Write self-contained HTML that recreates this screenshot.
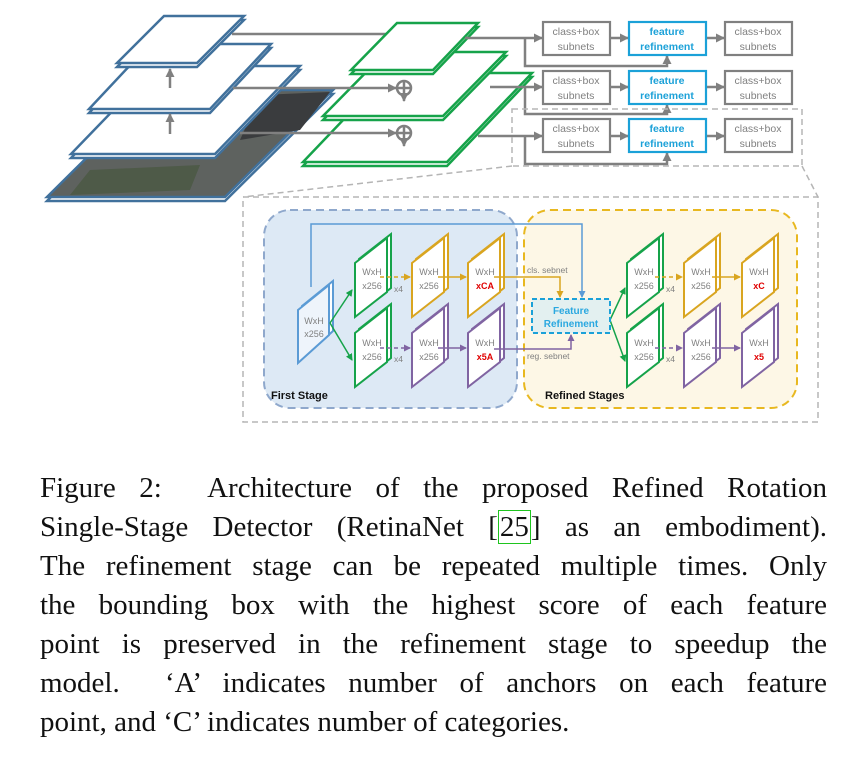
<!DOCTYPE html>
<html><head><meta charset="utf-8"><style>
body{margin:0;background:#fff;width:846px;height:758px;overflow:hidden;position:relative}
svg{position:absolute;left:0;top:0}
.cap{position:absolute;left:40px;width:787px;font-family:"Liberation Serif",serif;font-size:29px;color:#111;line-height:39px}
.cap div{text-align:justify;text-align-last:justify;white-space:nowrap;height:39px}
.cap div.last{text-align-last:left}
.ref{border:1.5px solid #1ec51e;padding:0 1px}
</style></head><body>
<svg width="846" height="460" viewBox="0 0 846 460" font-family="Liberation Sans, sans-serif">
<defs>
<marker id="ag" markerUnits="userSpaceOnUse" markerWidth="9" markerHeight="9" refX="8" refY="4.5" orient="auto"><path d="M0,0L9,4.5L0,9z" fill="#808080"/></marker>
<marker id="ab" markerUnits="userSpaceOnUse" markerWidth="7" markerHeight="7" refX="6" refY="3.5" orient="auto"><path d="M0,0L7,3.5L0,7z" fill="#5b9bd5"/></marker>
<marker id="ay" markerUnits="userSpaceOnUse" markerWidth="7" markerHeight="7" refX="6" refY="3.5" orient="auto"><path d="M0,0L7,3.5L0,7z" fill="#d9a520"/></marker>
<marker id="ap" markerUnits="userSpaceOnUse" markerWidth="7" markerHeight="7" refX="6" refY="3.5" orient="auto"><path d="M0,0L7,3.5L0,7z" fill="#8064a2"/></marker>
<marker id="agr" markerUnits="userSpaceOnUse" markerWidth="7" markerHeight="7" refX="6" refY="3.5" orient="auto"><path d="M0,0L7,3.5L0,7z" fill="#16a34a"/></marker>
</defs>
<polygon points="155,94 333,94 225,201 47,201" fill="#fff" stroke="#41719c" stroke-width="2.5"/>
<polygon points="155,90 333,90 225,197 47,197" fill="#5e625f" stroke="#41719c" stroke-width="2.5"/>
<polygon points="260,95 330,92 300,130 240,140" fill="#3a3c3e"/>
<polygon points="90,170 200,165 190,190 70,195" fill="#4e5a48"/>
<g stroke="#41719c" stroke-width="2.5" fill="#fff">
<polygon points="156,70 300,70 215,158 71,158"/><polygon points="156,66 300,66 215,154 71,154"/>
<polygon points="150,48 271,48 210,113 89,113"/><polygon points="150,44 271,44 210,109 89,109"/>
<polygon points="164,20 244,20 197,67 117,67"/><polygon points="164,16 244,16 197,63 117,63"/>
</g>
<g stroke="#808080" stroke-width="2.5" fill="none">
<line x1="170" y1="88" x2="170" y2="69" marker-end="url(#ag)"/>
<line x1="170" y1="134" x2="170" y2="114" marker-end="url(#ag)"/>
<polyline points="232,34 404,34 404,47" marker-end="url(#ag)"/>
</g>
<g stroke="#16a34a" stroke-width="2.5" fill="#fff">
<polygon points="388,77 532,77 447,166 303,166"/><polygon points="388,73 532,73 447,162 303,162"/>
<polygon points="386,56 506,56 443,120 323,120"/><polygon points="386,52 506,52 443,116 323,116"/>
<polygon points="397,27 478,27 433,74 351,74"/><polygon points="397,23 478,23 433,70 351,70"/>
</g>
<g stroke="#808080" stroke-width="2.5" fill="none">
<line x1="233" y1="88" x2="396" y2="88" marker-end="url(#ag)"/>
<circle cx="404" cy="88" r="7" fill="#fff"/><line x1="397" y1="88" x2="411" y2="88"/><line x1="404" y1="81" x2="404" y2="95"/>
<line x1="404" y1="95" x2="404" y2="101" marker-end="url(#ag)"/>
<line x1="240" y1="133" x2="396" y2="133" marker-end="url(#ag)"/>
<circle cx="404" cy="133" r="7" fill="#fff"/><line x1="397" y1="133" x2="411" y2="133"/><line x1="404" y1="126" x2="404" y2="140"/>
<line x1="404" y1="140" x2="404" y2="146" marker-end="url(#ag)"/>
<line x1="465" y1="38" x2="542" y2="38" marker-end="url(#ag)"/>
<polyline points="525,38 525,66 667,66 667,56" marker-end="url(#ag)"/>
<line x1="490" y1="87" x2="542" y2="87" marker-end="url(#ag)"/>
<polyline points="525,87 525,114 667,114 667,105" marker-end="url(#ag)"/>
<line x1="478" y1="136" x2="542" y2="136" marker-end="url(#ag)"/>
<polyline points="525,136 525,164 667,164 667,153" marker-end="url(#ag)"/>
<line x1="611" y1="38" x2="628" y2="38" marker-end="url(#ag)"/><line x1="707" y1="38" x2="724" y2="38" marker-end="url(#ag)"/>
<line x1="611" y1="87" x2="628" y2="87" marker-end="url(#ag)"/><line x1="707" y1="87" x2="724" y2="87" marker-end="url(#ag)"/>
<line x1="611" y1="136" x2="628" y2="136" marker-end="url(#ag)"/><line x1="707" y1="136" x2="724" y2="136" marker-end="url(#ag)"/>
</g>
<g font-size="10.5" text-anchor="middle">
<g stroke="#808080" stroke-width="2.2" fill="#fff">
<rect x="543" y="22" width="67" height="33"/><rect x="725" y="22" width="67" height="33"/>
<rect x="543" y="71" width="67" height="33"/><rect x="725" y="71" width="67" height="33"/>
<rect x="543" y="119" width="67" height="33"/><rect x="725" y="119" width="67" height="33"/>
</g>
<g stroke="#1ba1d8" stroke-width="2.2" fill="#fff">
<rect x="629" y="22" width="77" height="33"/><rect x="629" y="71" width="77" height="33"/><rect x="629" y="119" width="77" height="33"/>
</g>
<g fill="#808080">
<text x="576" y="35">class+box</text><text x="576" y="50">subnets</text>
<text x="758" y="35">class+box</text><text x="758" y="50">subnets</text>
<text x="576" y="84">class+box</text><text x="576" y="99">subnets</text>
<text x="758" y="84">class+box</text><text x="758" y="99">subnets</text>
<text x="576" y="132">class+box</text><text x="576" y="147">subnets</text>
<text x="758" y="132">class+box</text><text x="758" y="147">subnets</text>
</g>
<g fill="#1ba1d8" font-weight="bold">
<text x="667" y="35">feature</text><text x="667" y="50">refinement</text>
<text x="667" y="84">feature</text><text x="667" y="99">refinement</text>
<text x="667" y="132">feature</text><text x="667" y="147">refinement</text>
</g>
</g>
<g stroke="#b5b5b5" stroke-width="1.5" stroke-dasharray="6,4" fill="none">
<rect x="512" y="109" width="290" height="57"/>
<line x1="512" y1="166" x2="243" y2="197"/><line x1="802" y1="166" x2="818" y2="197"/>
<rect x="243" y="197" width="575" height="225"/>
</g>
<rect x="264" y="210" width="253" height="198" rx="26" fill="#dde9f5" stroke="#8fa8cc" stroke-width="2" stroke-dasharray="8,5"/>
<rect x="524" y="210" width="273" height="198" rx="26" fill="#fdf7e6" stroke="#e8b820" stroke-width="2" stroke-dasharray="8,5"/>
<text x="271" y="399" font-size="11" font-weight="bold" fill="#111">First Stage</text>
<text x="545" y="399" font-size="11" font-weight="bold" fill="#111">Refined Stages</text>
<g stroke-width="2">
<g stroke="#5b9bd5" fill="#fff"><polygon points="302,306 333,281 333,331 302,359"/><polygon points="298,310 329,285 329,335 298,363" fill="#eef4fb"/></g>
<g stroke="#16a34a" fill="#fff">
<polygon points="359,259 391,234 391,288 359,313"/><polygon points="355,263 387,238 387,292 355,317"/>
<polygon points="359,329 391,304 391,358 359,383"/><polygon points="355,333 387,308 387,362 355,387"/>
<polygon points="631,259 663,234 663,288 631,313"/><polygon points="627,263 659,238 659,292 627,317"/>
<polygon points="631,329 663,304 663,358 631,383"/><polygon points="627,333 659,308 659,362 627,387"/>
</g>
<g stroke="#d9a520" fill="#fff">
<polygon points="416,259 448,234 448,288 416,313"/><polygon points="412,263 444,238 444,292 412,317"/>
<polygon points="472,259 504,234 504,288 472,313"/><polygon points="468,263 500,238 500,292 468,317"/>
<polygon points="688,259 720,234 720,288 688,313"/><polygon points="684,263 716,238 716,292 684,317"/>
<polygon points="746,259 778,234 778,288 746,313"/><polygon points="742,263 774,238 774,292 742,317"/>
</g>
<g stroke="#8064a2" fill="#fff">
<polygon points="416,329 448,304 448,358 416,383"/><polygon points="412,333 444,308 444,362 412,387"/>
<polygon points="472,329 504,304 504,358 472,383"/><polygon points="468,333 500,308 500,362 468,387"/>
<polygon points="688,329 720,304 720,358 688,383"/><polygon points="684,333 716,308 716,362 684,387"/>
<polygon points="746,329 778,304 778,358 746,383"/><polygon points="742,333 774,308 774,362 742,387"/>
</g>
</g>
<g fill="none" stroke-width="1.5">
<polyline points="311,287 311,224 582,224 582,297" stroke="#5b9bd5" marker-end="url(#ab)"/>
<line x1="330" y1="323" x2="352" y2="290" stroke="#16a34a" marker-end="url(#agr)"/>
<line x1="330" y1="323" x2="352" y2="360" stroke="#16a34a" marker-end="url(#agr)"/>
<line x1="610" y1="320" x2="625" y2="288" stroke="#16a34a" marker-end="url(#agr)"/>
<line x1="610" y1="320" x2="625" y2="361" stroke="#16a34a" marker-end="url(#agr)"/>
<g stroke="#d9a520"><line x1="380" y1="277" x2="410" y2="277" stroke-dasharray="4,3" marker-end="url(#ay)"/><line x1="438" y1="277" x2="466" y2="277" marker-end="url(#ay)"/>
<polyline points="494,277 560,277 560,297" marker-end="url(#ay)"/>
<line x1="655" y1="277" x2="682" y2="277" stroke-dasharray="4,3" marker-end="url(#ay)"/><line x1="712" y1="277" x2="740" y2="277" marker-end="url(#ay)"/></g>
<g stroke="#8064a2"><line x1="380" y1="348" x2="410" y2="348" stroke-dasharray="4,3" marker-end="url(#ap)"/><line x1="438" y1="348" x2="466" y2="348" marker-end="url(#ap)"/>
<polyline points="494,349 571,349 571,335" marker-end="url(#ap)"/>
<line x1="655" y1="348" x2="682" y2="348" stroke-dasharray="4,3" marker-end="url(#ap)"/><line x1="712" y1="348" x2="740" y2="348" marker-end="url(#ap)"/></g>
</g>
<rect x="532" y="299" width="78" height="34" fill="#e3f0f0" stroke="#1ba1d8" stroke-width="2" stroke-dasharray="5,3"/>
<g font-size="10" font-weight="bold" fill="#2aa8e0" text-anchor="middle"><text x="571" y="314">Feature</text><text x="571" y="327">Refinement</text></g>
<g font-size="8.5" fill="#808080"><text x="527" y="273">cls. sebnet</text><text x="527" y="359">reg. sebnet</text>
<text x="394" y="292">x4</text><text x="394" y="362">x4</text><text x="666" y="292">x4</text><text x="666" y="362">x4</text></g>
<g font-size="9" fill="#808080" text-anchor="middle">
<text x="314" y="324">WxH</text><text x="314" y="337">x256</text>
<text x="372" y="275">WxH</text><text x="372" y="289">x256</text><text x="372" y="346">WxH</text><text x="372" y="360">x256</text>
<text x="429" y="275">WxH</text><text x="429" y="289">x256</text><text x="429" y="346">WxH</text><text x="429" y="360">x256</text>
<text x="485" y="275">WxH</text><text x="485" y="346">WxH</text>
<text x="644" y="275">WxH</text><text x="644" y="289">x256</text><text x="644" y="346">WxH</text><text x="644" y="360">x256</text>
<text x="701" y="275">WxH</text><text x="701" y="289">x256</text><text x="701" y="346">WxH</text><text x="701" y="360">x256</text>
<text x="759" y="275">WxH</text><text x="759" y="346">WxH</text>
</g>
<g font-size="9" fill="#e00000" font-weight="bold" text-anchor="middle">
<text x="485" y="289">xCA</text><text x="485" y="360">x5A</text><text x="759" y="289">xC</text><text x="759" y="360">x5</text>
</g>
</svg>
<div class="cap" style="top:469px">
<div>Figure 2:&nbsp; Architecture of the proposed Refined Rotation</div>
<div>Single-Stage Detector (RetinaNet [<span class="ref">25</span>] as an embodiment).</div>
<div>The refinement stage can be repeated multiple times. Only</div>
<div>the bounding box with the highest score of each feature</div>
<div>point is preserved in the refinement stage to speedup the</div>
<div>model.&nbsp; ‘A’ indicates number of anchors on each feature</div>
<div class="last">point, and ‘C’ indicates number of categories.</div>
</div>
</body></html>
